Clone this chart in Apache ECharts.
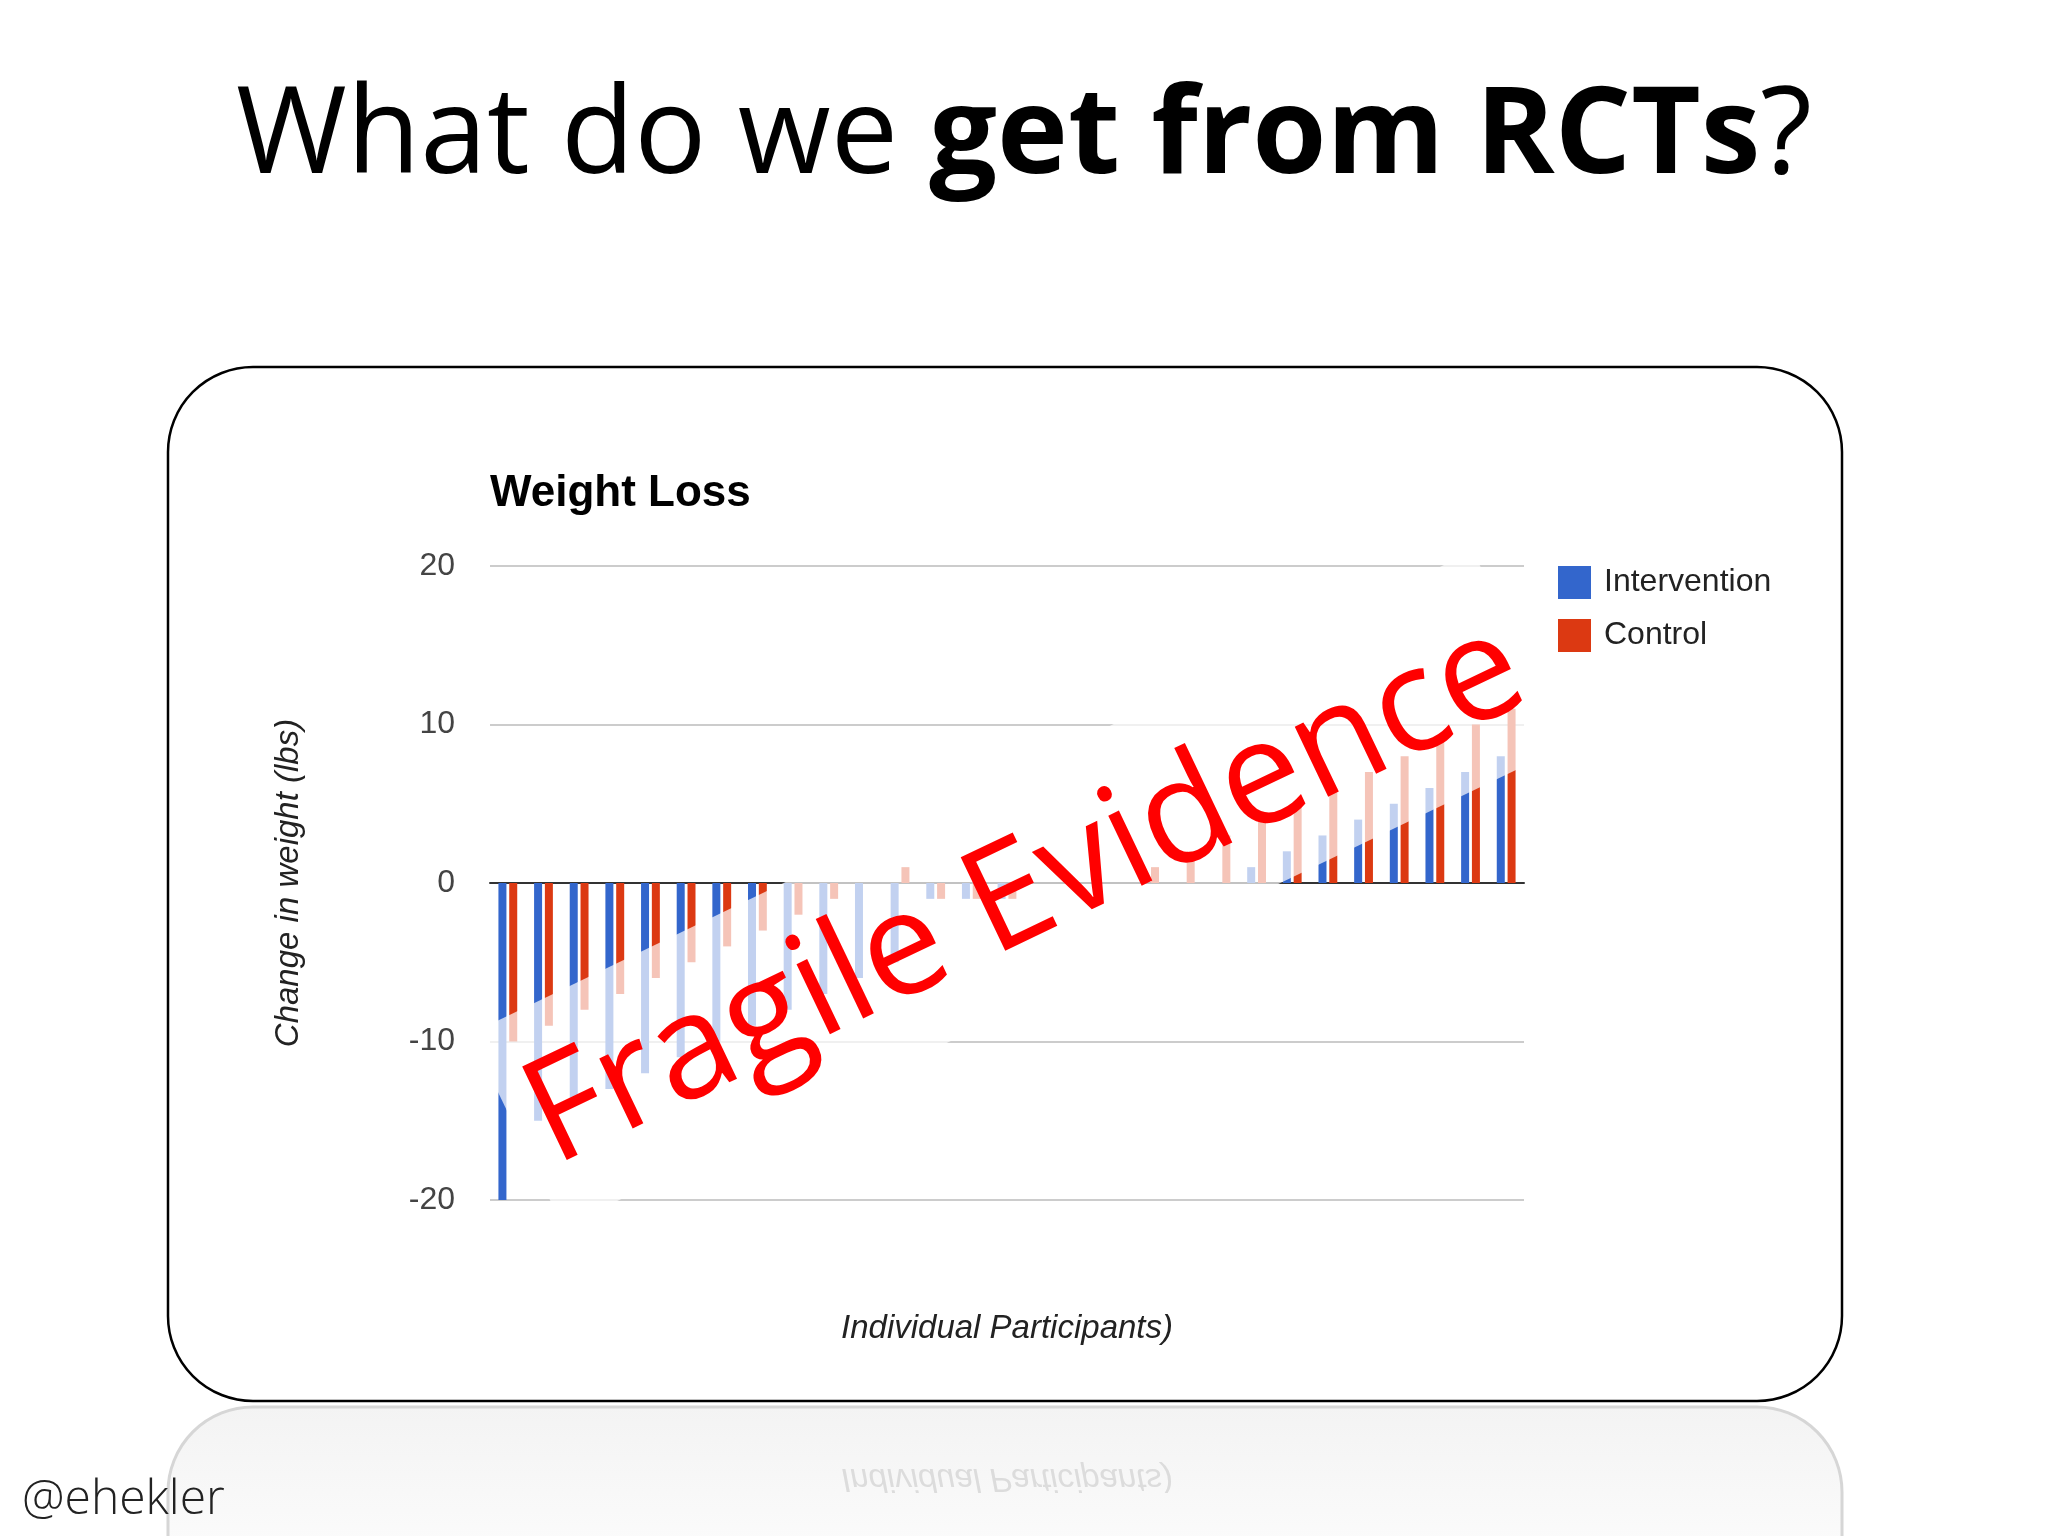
<!DOCTYPE html>
<html>
<head>
<meta charset="utf-8">
<script src="https://cdn.jsdelivr.net/npm/echarts@6.0.0/dist/echarts.min.js"></script>
<style>
  html, body { margin: 0; padding: 0; background: #fff; }
  .main { width: 2048px; height: 1536px; }
</style>
</head>
<body>
<div class="main"></div>
<script>
// participants, sorted by change in weight
var participants = ['1','2','3','4','5','6','7','8','9','10','11','12','13','14','15',
                    '16','17','18','19','20','21','22','23','24','25','26','27','28','29'];
var intervention = [-20,-15,-14,-13,-12,-11,-10,-9,-8,-7,-6,-5,-1,-1,-1,0,0,0,0,0,0,1,2,3,4,5,6,7,8];
var control      = [-10,-9,-8,-7,-6,-5,-4,-3,-2,-1,0,1,-1,-1,-1,0,0,0,1,2,3,4,5,6,7,8,9,10,11];
var yTicks = [-20, -10, 0, 10, 20];

var myChart = echarts.init(document.querySelector('.main'));

var option = {
  backgroundColor: '#fff',
  animation: false,
  color: ['#3366cc', '#dc3912'],
  title: [{
    text: '{n|What do we }{b|get from RCTs}{n|?}',
    left: 'center',
    top: 74,
    textStyle: {
      rich: {
        n: { fontFamily: 'Open Sans', fontSize: 120, fontWeight: 'normal', color: '#000' },
        b: { fontFamily: 'Open Sans', fontSize: 120, fontWeight: 'bold', color: '#000' }
      }
    }
  }, {
    text: 'Weight Loss',
    left: 485,
    top: 467,
    textStyle: { fontFamily: 'Liberation Sans', fontSize: 44, fontWeight: 'bold', color: '#000' }
  }],
  legend: {
    orient: 'vertical',
    left: 1553,
    top: 561,
    itemWidth: 33,
    itemHeight: 33,
    itemGap: 20,
    icon: 'rect',
    data: ['Intervention', 'Control'],
    textStyle: { fontFamily: 'Liberation Sans', fontSize: 32, color: '#222', padding: [0, 0, 0, 8] }
  },
  grid: { left: 490, right: 524, top: 566, bottom: 336, containLabel: false },
  xAxis: {
    type: 'category',
    data: participants,
    name: 'Individual Participants)',
    nameLocation: 'middle',
    nameGap: 112,
    nameTextStyle: { fontFamily: 'Liberation Sans', fontStyle: 'italic', fontSize: 33, color: '#222' },
    axisLine: { show: true, onZero: true, lineStyle: { color: '#333', width: 2 } },
    axisTick: { show: false },
    axisLabel: { show: false },
    splitLine: { show: false }
  },
  yAxis: {
    type: 'value',
    min: yTicks[0],
    max: yTicks[yTicks.length - 1],
    interval: 10,
    name: 'Change in weight (lbs)',
    nameLocation: 'middle',
    nameGap: 185,
    nameTextStyle: { fontFamily: 'Liberation Sans', fontStyle: 'italic', fontSize: 33, color: '#222' },
    axisLine: { show: false },
    axisTick: { show: false },
    axisLabel: { margin: 35, fontFamily: 'Liberation Sans', fontSize: 32, color: '#444' },
    splitLine: { lineStyle: { color: '#cccccc', width: 2 } }
  },
  series: [{
    name: 'Intervention',
    type: 'bar',
    barWidth: 8,
    barGap: '35%',
    data: intervention
  }, {
    name: 'Control',
    type: 'bar',
    barWidth: 8,
    data: control
  }],
  graphic: [
    // slide frame
    { type: 'rect', z: -10, shape: { x: 168, y: 367, width: 1674, height: 1034, r: 85 },
      style: { fill: 'none', stroke: '#000', lineWidth: 2.5 } },
    // reflection below the frame
    { type: 'rect', z: -10, shape: { x: 168, y: 1407, width: 1674, height: 1034, r: 85 },
      style: {
        stroke: '#d6d6d6', lineWidth: 3,
        fill: new echarts.graphic.LinearGradient(0, 0, 0, 0.15, [
          { offset: 0, color: '#f3f3f3' }, { offset: 1, color: '#fcfcfc' }])
      } },
    { type: 'text', z: -9, x: 1007, y: 1478, scaleY: -1,
      style: { text: 'Individual Participants)', fill: '#dcdcdc', align: 'center', verticalAlign: 'middle',
               font: 'italic 33px "Liberation Sans"' } },
    { type: 'text', z: 10, x: 22, y: 1500,
      style: { text: '@ehekler', fill: '#222', align: 'left', verticalAlign: 'middle',
               font: '300 48px "Open Sans"' } },
    // white stamp band
    { type: 'polygon', z: 100,
      shape: { points: [[470, 1034], [563, 1227], [1566, 746], [1473, 551]] },
      style: { fill: 'rgba(255,255,255,0.7)' } },
    { type: 'text', z: 101, x: 1026, y: 895, rotation: 25.5 * Math.PI / 180,
      style: { text: 'Fragile Evidence', fill: '#ff0000', align: 'center', verticalAlign: 'middle',
               font: '145px "Open Sans"' } }
  ]
};
myChart.setOption(option);
</script>
</body>
</html>
